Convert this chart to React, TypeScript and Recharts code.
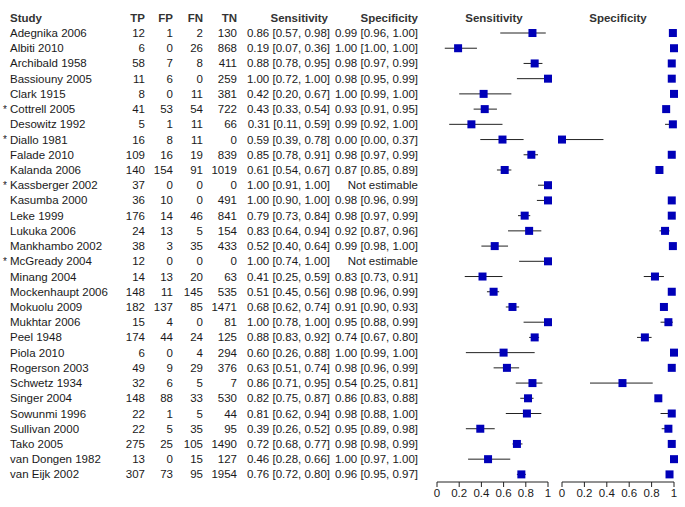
import { ScatterChart, Scatter, XAxis, YAxis, ErrorBar } from 'recharts';

const studies = [
  'Adegnika 2006', 'Albiti 2010', 'Archibald 1958', 'Bassiouny 2005', 'Clark 1915',
  'Cottrell 2005', 'Desowitz 1992', 'Diallo 1981', 'Falade 2010', 'Kalanda 2006',
  'Kassberger 2002', 'Kasumba 2000', 'Leke 1999', 'Lukuka 2006', 'Mankhambo 2002',
  'McGready 2004', 'Minang 2004', 'Mockenhaupt 2006', 'Mokuolu 2009', 'Mukhtar 2006',
  'Peel 1948', 'Piola 2010', 'Rogerson 2003', 'Schwetz 1934', 'Singer 2004',
  'Sowunmi 1996', 'Sullivan 2000', 'Tako 2005', 'van Dongen 1982', 'van Eijk 2002',
];
const flagged = ['Cottrell 2005', 'Diallo 1981', 'Kassberger 2002', 'McGready 2004'];

const tp = [12, 6, 58, 11, 8, 41, 5, 16, 109, 140, 37, 36, 176, 24, 38, 12, 14, 148, 182, 15, 174, 6, 49, 32, 148, 22, 22, 275, 13, 307];
const fp = [1, 0, 7, 6, 0, 53, 1, 8, 16, 154, 0, 10, 14, 13, 3, 0, 13, 11, 137, 4, 44, 0, 9, 6, 88, 1, 5, 25, 0, 73];
const fn = [2, 26, 8, 0, 11, 54, 11, 11, 19, 91, 0, 0, 46, 5, 35, 0, 20, 145, 85, 0, 24, 4, 29, 5, 33, 5, 35, 105, 15, 95];
const tn = [130, 868, 411, 259, 381, 722, 66, 0, 839, 1019, 0, 491, 841, 154, 433, 0, 63, 535, 1471, 81, 125, 294, 376, 7, 530, 44, 95, 1490, 127, 1954];

const sens = [0.86, 0.19, 0.88, 1.0, 0.42, 0.43, 0.31, 0.59, 0.85, 0.61, 1.0, 1.0, 0.79, 0.83, 0.52, 1.0, 0.41, 0.51, 0.68, 1.0, 0.88, 0.6, 0.63, 0.86, 0.82, 0.81, 0.39, 0.72, 0.46, 0.76];
const sensLo = [0.57, 0.07, 0.78, 0.72, 0.2, 0.33, 0.11, 0.39, 0.78, 0.54, 0.91, 0.9, 0.73, 0.64, 0.4, 0.74, 0.25, 0.45, 0.62, 0.78, 0.83, 0.26, 0.51, 0.71, 0.75, 0.62, 0.26, 0.68, 0.28, 0.72];
const sensHi = [0.98, 0.36, 0.95, 1.0, 0.67, 0.54, 0.59, 0.78, 0.91, 0.67, 1.0, 1.0, 0.84, 0.94, 0.64, 1.0, 0.59, 0.56, 0.74, 1.0, 0.92, 0.88, 0.74, 0.95, 0.87, 0.94, 0.52, 0.77, 0.66, 0.8];

const spec = [0.99, 1.0, 0.98, 0.98, 1.0, 0.93, 0.99, 0.0, 0.98, 0.87, null, 0.98, 0.98, 0.92, 0.99, null, 0.83, 0.98, 0.91, 0.95, 0.74, 1.0, 0.98, 0.54, 0.86, 0.98, 0.95, 0.98, 1.0, 0.96];
const specLo = [0.96, 1.0, 0.97, 0.95, 0.99, 0.91, 0.92, 0.0, 0.97, 0.85, null, 0.96, 0.97, 0.87, 0.98, null, 0.73, 0.96, 0.9, 0.88, 0.67, 0.99, 0.96, 0.25, 0.83, 0.88, 0.89, 0.98, 0.97, 0.95];
const specHi = [1.0, 1.0, 0.99, 0.99, 1.0, 0.95, 1.0, 0.37, 0.99, 0.89, null, 0.99, 0.99, 0.96, 1.0, null, 0.91, 0.99, 0.93, 0.99, 0.8, 1.0, 0.99, 0.81, 0.88, 1.0, 0.98, 0.99, 1.0, 0.97];

const axisTicks = [0, 0.2, 0.4, 0.6, 0.8, 1];

const f2 = (v: number) => v.toFixed(2);
const ciText = (v: number | null, lo: number | null, hi: number | null) =>
  v == null || lo == null || hi == null ? 'Not estimable' : `${f2(v)} [${f2(lo)}, ${f2(hi)}]`;

const rows = studies.map((study, i) => ({
  study,
  sens: sens[i],
  sensErr: [sens[i] - sensLo[i], sensHi[i] - sens[i]],
  spec: spec[i],
  specErr: spec[i] == null ? null : [(spec[i] as number) - (specLo[i] as number), (specHi[i] as number) - (spec[i] as number)],
}));

const FONT = '"Liberation Sans", Arial, sans-serif';
const FS = 11.5;
const TEXT = '#1a1a1a';
const BLUE = '#0000b8';
const W = 685;
const H = 507;
const TOP = 25.4;
const PLOT_BOTTOM = 482;

// table columns (right edges for numbers)
const cols = { star: 3, study: 10, tp: 145, fp: 173, fn: 203, tn: 237, sens: 330, spec: 418 };

const TableRow = (props: any) => {
  const { y, payload } = props;
  const i = studies.indexOf(payload.value);
  if (i < 0) return null;
  const common = { fontSize: FS, fontFamily: FONT, fill: TEXT, dominantBaseline: 'central' as const };
  return (
    <g>
      {flagged.includes(studies[i]) && (
        <text x={cols.star} y={y} {...common} fontSize={10}>*</text>
      )}
      <text x={cols.study} y={y} {...common}>{studies[i]}</text>
      <text x={cols.tp} y={y} textAnchor='end' {...common}>{tp[i]}</text>
      <text x={cols.fp} y={y} textAnchor='end' {...common}>{fp[i]}</text>
      <text x={cols.fn} y={y} textAnchor='end' {...common}>{fn[i]}</text>
      <text x={cols.tn} y={y} textAnchor='end' {...common}>{tn[i]}</text>
      <text x={cols.sens} y={y} textAnchor='end' {...common}>{ciText(sens[i], sensLo[i], sensHi[i])}</text>
      <text x={cols.spec} y={y} textAnchor='end' {...common}>{ciText(spec[i], specLo[i], specHi[i])}</text>
    </g>
  );
};

const Square = (props: any) => {
  const { cx, cy } = props;
  if (cx == null || cy == null || Number.isNaN(cx)) return <g />;
  return <rect x={cx - 4} y={cy - 4} width={8} height={8} fill={BLUE} />;
};

const tickStyle = { fontSize: FS, fontFamily: FONT, fill: TEXT };
const fmt = (v: number) => String(v);

const headers: { label: string; x: number; anchor: 'start' | 'end' | 'middle' }[] = [
  { label: 'Study', x: cols.study, anchor: 'start' },
  { label: 'TP', x: cols.tp, anchor: 'end' },
  { label: 'FP', x: cols.fp, anchor: 'end' },
  { label: 'FN', x: cols.fn, anchor: 'end' },
  { label: 'TN', x: cols.tn, anchor: 'end' },
  { label: 'Sensitivity', x: cols.sens - 2, anchor: 'end' },
  { label: 'Specificity', x: cols.spec, anchor: 'end' },
  { label: 'Sensitivity', x: 494, anchor: 'middle' },
  { label: 'Specificity', x: 618, anchor: 'middle' },
];

export default function App() {
  return (
    <div style={{ position: 'absolute', left: 0, top: 0, width: W, height: H, background: '#fff' }}>
      <div style={{ position: 'absolute', left: 0, top: 0 }}>
        <ScatterChart width={560} height={H} data={rows} margin={{ top: TOP, right: 12, bottom: 0, left: 0 }}>
          <XAxis
            type='number'
            dataKey='sens'
            domain={[0, 1]}
            ticks={axisTicks}
            tickFormatter={fmt}
            tick={tickStyle}
            stroke='#222'
            tickSize={5}
            height={H - PLOT_BOTTOM}
          />
          <YAxis
            type='category'
            dataKey='study'
            width={437}
            reversed
            axisLine={false}
            tickLine={false}
            interval={0}
            tick={<TableRow />}
          />
          <Scatter dataKey='sens' shape={<Square />} isAnimationActive={false}>
            <ErrorBar dataKey='sensErr' direction='x' width={0} stroke='#222' strokeWidth={1} />
          </Scatter>
        </ScatterChart>
      </div>
      <div style={{ position: 'absolute', left: 550, top: 0 }}>
        <ScatterChart width={135} height={H} data={rows} margin={{ top: TOP, right: 11, bottom: 0, left: 12 }}>
          <XAxis
            type='number'
            dataKey='spec'
            domain={[0, 1]}
            ticks={axisTicks}
            tickFormatter={fmt}
            tick={tickStyle}
            stroke='#222'
            tickSize={5}
            height={H - PLOT_BOTTOM}
          />
          <YAxis type='category' dataKey='study' hide reversed width={0} />
          <Scatter dataKey='spec' shape={<Square />} isAnimationActive={false}>
            <ErrorBar dataKey='specErr' direction='x' width={0} stroke='#222' strokeWidth={1} />
          </Scatter>
        </ScatterChart>
      </div>
      <svg style={{ position: 'absolute', left: 0, top: 0 }} width={W} height={TOP}>
        {headers.map((h, i) => (
          <text
            key={i}
            x={h.x}
            y={18}
            textAnchor={h.anchor}
            dominantBaseline='central'
            fontSize={FS}
            fontWeight='bold'
            fontFamily={FONT}
            fill='#333'
          >
            {h.label}
          </text>
        ))}
      </svg>
    </div>
  );
}
